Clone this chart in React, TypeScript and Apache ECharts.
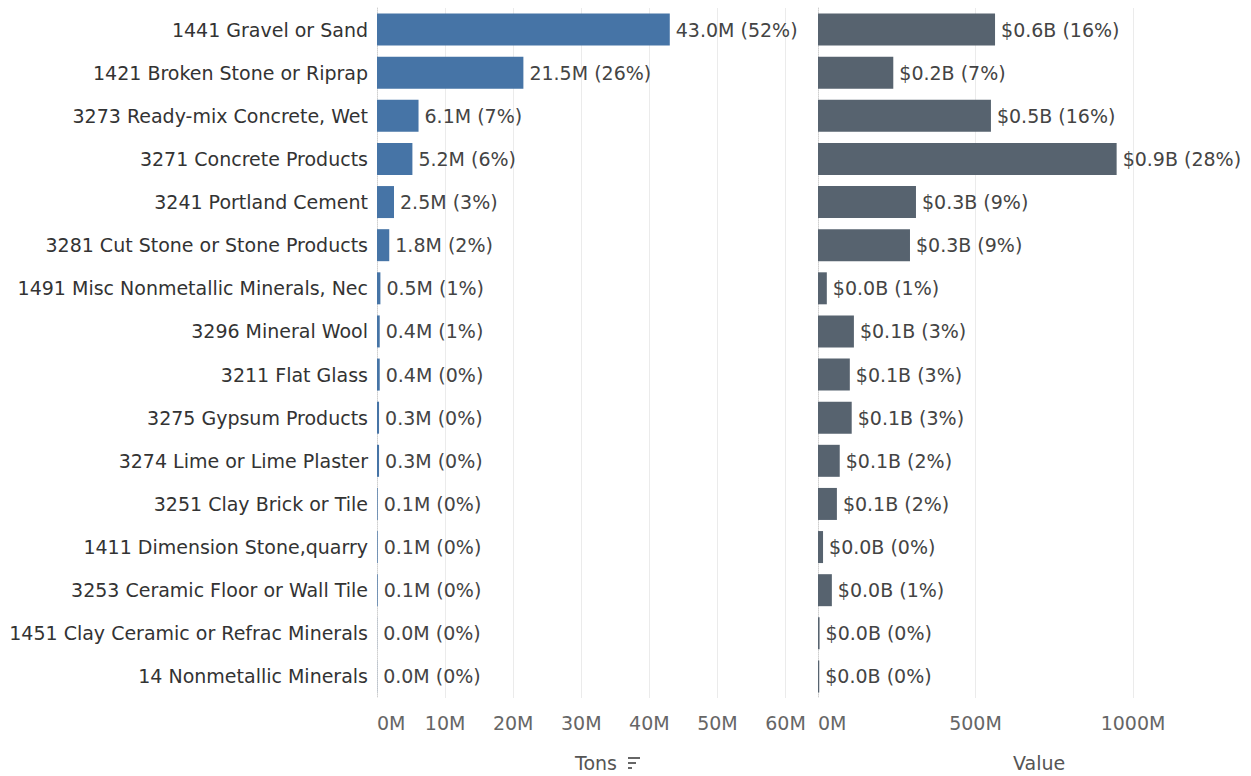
import React, { useEffect, useRef } from "react";
import * as echarts from "echarts";

const categories = [
  "1441 Gravel or Sand",
  "1421 Broken Stone or Riprap",
  "3273 Ready-mix Concrete, Wet",
  "3271 Concrete Products",
  "3241 Portland Cement",
  "3281 Cut Stone or Stone Products",
  "1491 Misc Nonmetallic Minerals, Nec",
  "3296 Mineral Wool",
  "3211 Flat Glass",
  "3275 Gypsum Products",
  "3274 Lime or Lime Plaster",
  "3251 Clay Brick or Tile",
  "1411 Dimension Stone,quarry",
  "3253 Ceramic Floor or Wall Tile",
  "1451 Clay Ceramic or Refrac Minerals",
  "14 Nonmetallic Minerals",
];
// millions of tons
const tons = [43.0, 21.5, 6.1, 5.2, 2.5, 1.8, 0.5, 0.4, 0.4, 0.3, 0.3, 0.1, 0.1, 0.1, 0.02, 0.02];
const tonsPct = [52, 26, 7, 6, 3, 2, 1, 1, 0, 0, 0, 0, 0, 0, 0, 0];
// millions of dollars
const value = [562, 239, 549, 948, 311, 292, 28, 114, 101, 107, 69, 60, 16, 44, 5, 4];
const valuePct = [16, 7, 16, 28, 9, 9, 1, 3, 3, 3, 2, 2, 0, 1, 0, 0];
const tonsTicks = [0, 10, 20, 30, 40, 50, 60];
const valueTicks = [0, 500, 1000];

const FONT = "'DejaVu Sans', sans-serif";
const FS = 19;

export default function App() {
  const ref = useRef<HTMLDivElement>(null);
  useEffect(() => {
    const chart = echarts.init(ref.current!, null, { renderer: "svg" });
    const common = {
      type: "value" as const,
      min: 0,
      axisLine: { show: false },
      axisTick: { show: false },
      splitLine: { show: true, showMinLine: false, showMaxLine: false, lineStyle: { color: "#ebebeb", width: 1 } },
    };
    chart.setOption({
      animation: false,
      textStyle: { fontFamily: FONT },
      grid: [
        { left: 377, width: 431, top: 8, height: 690 },
        { left: 818, width: 433, top: 8, height: 690 },
      ],
      xAxis: [
        {
          ...common,
          gridIndex: 0,
          max: 63.3,
          interval: 10,
          axisLabel: {
            fontSize: FS,
            color: "#666",
            margin: 15,
            fontFamily: FONT,
            alignMinLabel: "left",
            formatter: (v: number) => (tonsTicks.includes(v) ? v + "M" : ""),
          },
        },
        {
          ...common,
          gridIndex: 1,
          max: 1365,
          interval: 500,
          axisLabel: {
            fontSize: FS,
            color: "#666",
            margin: 15,
            fontFamily: FONT,
            alignMinLabel: "left",
            formatter: (v: number) => (valueTicks.includes(v) ? v + "M" : ""),
          },
        },
      ],
      yAxis: [
        {
          type: "category",
          gridIndex: 0,
          data: categories,
          inverse: true,
          axisTick: { show: false },
          axisLine: { show: true, lineStyle: { color: "#d0d0d0", type: "dotted" } },
          axisLabel: { fontSize: FS, color: "#333", margin: 9, fontFamily: FONT },
        },
        {
          type: "category",
          gridIndex: 1,
          data: categories,
          inverse: true,
          axisTick: { show: false },
          axisLine: { show: true, lineStyle: { color: "#d0d0d0", type: "dotted" } },
          axisLabel: { show: false },
        },
      ],
      series: [
        {
          type: "bar",
          xAxisIndex: 0,
          yAxisIndex: 0,
          data: tons,
          barWidth: 32,
          itemStyle: { color: "#4674a6" },
          label: {
            show: true,
            position: "right",
            distance: 6,
            fontSize: FS,
            color: "#444",
            fontFamily: FONT,
            formatter: (p: any) => `${tons[p.dataIndex].toFixed(1)}M (${tonsPct[p.dataIndex]}%)`,
          },
        },
        {
          type: "bar",
          xAxisIndex: 1,
          yAxisIndex: 1,
          data: value,
          barWidth: 32,
          itemStyle: { color: "#57636f" },
          label: {
            show: true,
            position: "right",
            distance: 6,
            fontSize: FS,
            color: "#444",
            fontFamily: FONT,
            formatter: (p: any) => `$${(value[p.dataIndex] / 1000).toFixed(1)}B (${valuePct[p.dataIndex]}%)`,
          },
        },
      ],
      graphic: [
        {
          type: "text",
          left: 575,
          top: 753,
          style: { text: "Tons", fontSize: FS, fill: "#555", fontFamily: FONT },
        },
        { type: "rect", shape: { x: 628, y: 757, width: 12, height: 2 }, style: { fill: "#666" } },
        { type: "rect", shape: { x: 628, y: 762, width: 8, height: 2 }, style: { fill: "#666" } },
        { type: "rect", shape: { x: 628, y: 767, width: 4, height: 2 }, style: { fill: "#666" } },
        {
          type: "text",
          left: 1013,
          top: 753,
          style: { text: "Value", fontSize: FS, fill: "#555", fontFamily: FONT },
        },
      ],
    });
    return () => chart.dispose();
  }, []);
  return <div ref={ref} style={{ width: 1251, height: 776, position: "absolute", left: 0, top: 0 }} />;
}
